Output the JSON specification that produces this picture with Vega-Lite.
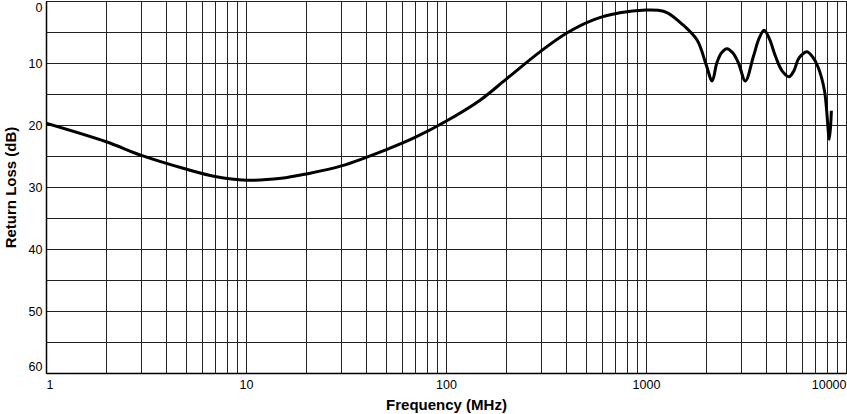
{
  "$schema": "https://vega.github.io/schema/vega-lite/v6.json",
  "width": 800,
  "height": 372,
  "autosize": "none",
  "padding": {"left": 46, "top": 1, "right": 1, "bottom": 41},
  "background": "white",
  "config": {
    "view": {"stroke": "#000", "strokeWidth": 1},
    "font": "Liberation Sans",
    "axis": {
      "labelFont": "Liberation Sans",
      "titleFont": "Liberation Sans",
      "labelFontSize": 12.5,
      "labelColor": "#000",
      "titleColor": "#000",
      "titleFontSize": 15,
      "titleFontWeight": "bold",
      "domainColor": "#000",
      "domainWidth": 1.5,
      "gridColor": "#222",
      "gridWidth": 1,
      "gridOpacity": 1,
      "ticks": false,
      "labelOverlap": false
    }
  },
  "data": {
    "values": [
      {"f": 1, "rl": 19.7},
      {"f": 2, "rl": 22.7},
      {"f": 3, "rl": 24.9},
      {"f": 5, "rl": 27.1},
      {"f": 7, "rl": 28.3},
      {"f": 10, "rl": 28.9},
      {"f": 15, "rl": 28.6},
      {"f": 20, "rl": 27.9},
      {"f": 30, "rl": 26.6},
      {"f": 50, "rl": 24.0},
      {"f": 70, "rl": 22.0},
      {"f": 100, "rl": 19.4},
      {"f": 148, "rl": 16.0},
      {"f": 200, "rl": 12.6},
      {"f": 295, "rl": 8.2},
      {"f": 400, "rl": 5.2},
      {"f": 550, "rl": 3.0},
      {"f": 740, "rl": 1.9},
      {"f": 1000, "rl": 1.45},
      {"f": 1150, "rl": 1.5},
      {"f": 1280, "rl": 1.9},
      {"f": 1500, "rl": 3.6},
      {"f": 1800, "rl": 6.3},
      {"f": 2000, "rl": 10.3},
      {"f": 2140, "rl": 12.9},
      {"f": 2260, "rl": 10.0},
      {"f": 2380, "rl": 8.4},
      {"f": 2540, "rl": 7.7},
      {"f": 2720, "rl": 8.4},
      {"f": 2900, "rl": 10.0},
      {"f": 3140, "rl": 12.9},
      {"f": 3440, "rl": 9.0},
      {"f": 3680, "rl": 6.0},
      {"f": 3900, "rl": 4.7},
      {"f": 4150, "rl": 6.2},
      {"f": 4450, "rl": 9.0},
      {"f": 4800, "rl": 11.3},
      {"f": 5200, "rl": 12.2},
      {"f": 5500, "rl": 11.2},
      {"f": 5750, "rl": 9.5},
      {"f": 6000, "rl": 8.7},
      {"f": 6380, "rl": 8.2},
      {"f": 6800, "rl": 9.0},
      {"f": 7240, "rl": 10.6},
      {"f": 7800, "rl": 14.4},
      {"f": 8260, "rl": 22.3},
      {"f": 8450, "rl": 17.7}
    ]
  },
  "mark": {"type": "line", "color": "#000", "strokeWidth": 3, "interpolate": "catmull-rom", "clip": true},
  "encoding": {
    "x": {
      "field": "f",
      "type": "quantitative",
      "scale": {"type": "log", "domain": [1, 10000], "nice": false},
      "axis": {
        "title": "Frequency (MHz)",
        "values": [1,2,3,4,5,6,7,8,9,10,20,30,40,50,60,70,80,90,100,200,300,400,500,600,700,800,900,1000,2000,3000,4000,5000,6000,7000,8000,9000,10000],
        "format": "d",
        "labelExpr": "indexof(['1','10','100','1000','10000'], datum.label) >= 0 ? datum.label : ''",
        "labelPadding": 5,
        "labelFlush": true,
        "titlePadding": 7,
        "grid": true
      }
    },
    "y": {
      "field": "rl",
      "type": "quantitative",
      "scale": {"domain": [0, 60], "reverse": true, "nice": false},
      "axis": {
        "title": "Return Loss (dB)",
        "values": [0,5,10,15,20,25,30,35,40,45,50,55,60],
        "labelExpr": "datum.value % 10 == 0 ? datum.label : ''",
        "labelPadding": 4,
        "labelFlush": true,
        "titlePadding": 10,
        "grid": true
      }
    }
  }
}
